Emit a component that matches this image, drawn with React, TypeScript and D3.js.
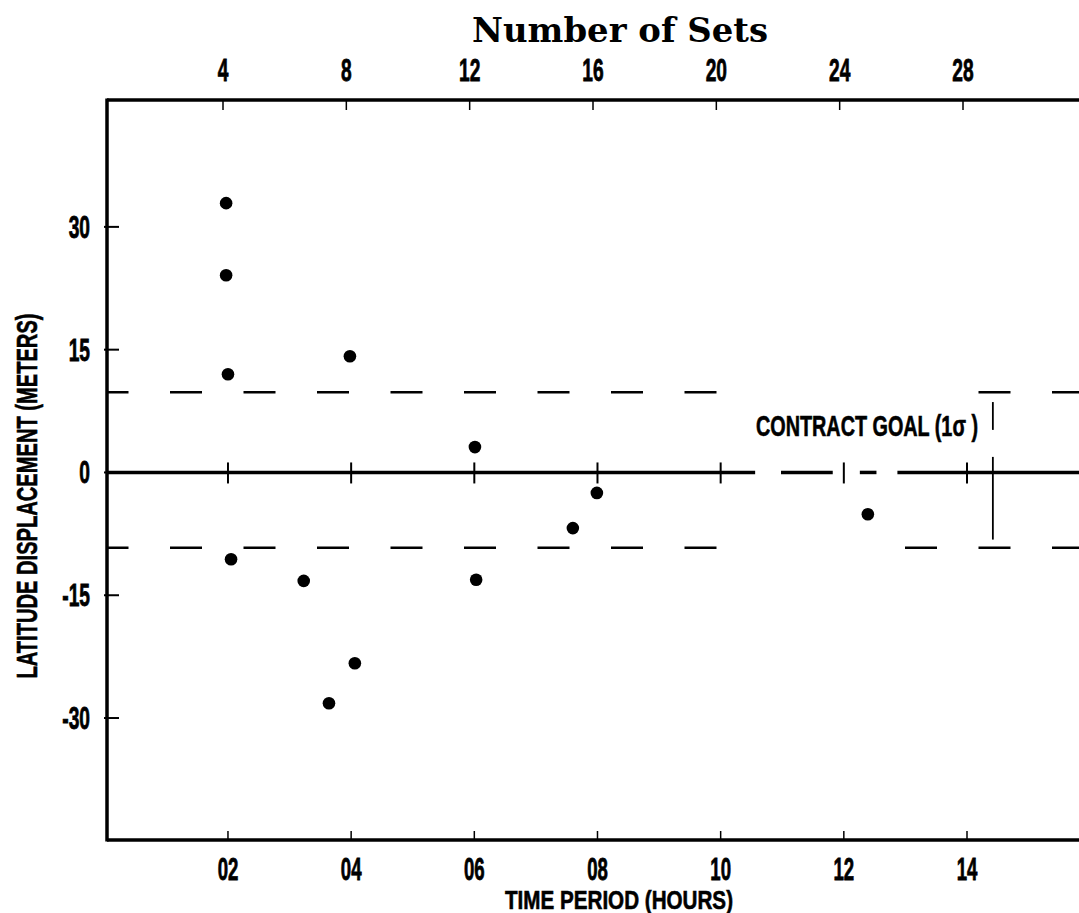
import React, { useEffect, useRef } from "react";
import * as d3 from "d3";

// values
const hourTicks = [2, 4, 6, 8, 10, 12, 14];
const hourLabels = ["02", "04", "06", "08", "10", "12", "14"];
const setTicks = [4, 8, 12, 16, 20, 24, 28];
const yTicks = [30, 15, 0, -15, -30];
const yTickLabels = ["30", "15", "0", "-15", "-30"];

const pointHours = [1.97, 1.97, 2.0, 3.98, 2.05, 3.23, 6.01, 6.03, 7.6, 7.99, 4.06, 3.64, 12.39];
const pointValues = [32.9, 24.1, 12.0, 14.2, -10.6, -13.25, 3.1, -13.1, -6.8, -2.5, -23.3, -28.2, -5.1];

const goalUpper = 9.8;
const goalLower = -9.2;
// pieces of the dashed goal lines that survive in the print (hours)
const goalUpperSegments = [[0, 10.0], [13.72, 16]];
const goalLowerSegments = [[0, 10.0], [12.75, 16]];
const zeroLineSegments = [[0, 10.56], [10.98, 11.82], [12.26, 12.53], [12.87, 16]];
const goalBarHour = 14.42;
const goalBarSegments = [[8.6, 5.2], [1.9, -8.2]];

const FONT = "'Liberation Sans', Arial, sans-serif";

const App = () => {
  const ref = useRef(null);
  const width = 1079;
  const height = 913;

  useEffect(() => {
    d3.select(ref.current).selectAll("*").remove();
    const svg = d3.select(ref.current);

    const x = d3.scaleLinear().domain([0, 14]).range([104.8, 967]);
    const xSets = d3.scaleLinear().domain([4, 28]).range([223, 963]);
    const y = d3.scaleLinear().domain([-44.9, 45.5]).range([840, 100]);

    const left = 107;
    const top = y(45.5);
    const bottom = y(-44.9);

    // heavy condensed lettering, squeezed horizontally
    const label = (g, px, py, txt, anchor, size = 32, sx = 0.6) =>
      g
        .append("text")
        .attr("transform", `translate(${px},${py}) scale(${sx},1)`)
        .attr("text-anchor", anchor)
        .attr("font-family", FONT)
        .attr("font-weight", "bold")
        .attr("font-size", size)
        .attr("stroke", "#000")
        .attr("stroke-width", 0.8)
        .attr("fill", "#000")
        .text(txt);

    // frame: top, left, bottom
    svg.append("line").attr("x1", left).attr("x2", width).attr("y1", top).attr("y2", top)
      .attr("stroke", "#000").attr("stroke-width", 3.5);
    svg.append("line").attr("x1", left).attr("x2", left).attr("y1", top - 1.5).attr("y2", bottom + 1.5)
      .attr("stroke", "#000").attr("stroke-width", 3.5);
    svg.append("line").attr("x1", left).attr("x2", width).attr("y1", bottom).attr("y2", bottom)
      .attr("stroke", "#000").attr("stroke-width", 3.5);

    // top axis: number of sets
    svg.append("g").selectAll("line").data(setTicks).join("line")
      .attr("x1", (d) => xSets(d)).attr("x2", (d) => xSets(d))
      .attr("y1", top).attr("y2", top + 10)
      .attr("stroke", "#000").attr("stroke-width", 1.5);
    const topLabels = svg.append("g");
    setTicks.forEach((d) => label(topLabels, xSets(d), 81, String(d), "middle"));

    svg.append("text")
      .attr("x", 472).attr("y", 42)
      .attr("textLength", 296).attr("lengthAdjust", "spacingAndGlyphs")
      .attr("font-family", "'DejaVu Serif', serif")
      .attr("font-weight", "bold")
      .attr("font-size", 34)
      .text("Number of Sets");

    // y axis ticks and labels
    svg.append("g").selectAll("line").data(yTicks).join("line")
      .attr("x1", left - 3).attr("x2", left + 12)
      .attr("y1", (d) => y(d)).attr("y2", (d) => y(d))
      .attr("stroke", "#000").attr("stroke-width", 2);
    const yLabels = svg.append("g");
    yTicks.forEach((d, i) => label(yLabels, 90, y(d) + 11, yTickLabels[i], "end"));

    svg.append("text")
      .attr("transform", `translate(37,${496}) rotate(-90)`)
      .attr("text-anchor", "middle")
      .attr("textLength", 365).attr("lengthAdjust", "spacingAndGlyphs")
      .attr("font-family", FONT)
      .attr("font-weight", "bold")
      .attr("font-size", 29)
      .attr("stroke", "#000")
      .attr("stroke-width", 0.6)
      .text("LATITUDE DISPLACEMENT (METERS)");

    // bottom axis
    svg.append("g").selectAll("line").data(hourTicks).join("line")
      .attr("x1", (d) => x(d)).attr("x2", (d) => x(d))
      .attr("y1", bottom).attr("y2", bottom - 9)
      .attr("stroke", "#000").attr("stroke-width", 1.5);
    const xLabels = svg.append("g");
    hourTicks.forEach((d, i) => label(xLabels, x(d), 880, hourLabels[i], "middle", 31));

    svg.append("text")
      .attr("x", 505).attr("y", 909)
      .attr("textLength", 228).attr("lengthAdjust", "spacingAndGlyphs")
      .attr("font-family", FONT)
      .attr("font-weight", "bold")
      .attr("font-size", 26)
      .attr("stroke", "#000")
      .attr("stroke-width", 0.6)
      .text("TIME PERIOD (HOURS)");

    // zero line with cross ticks
    svg.append("g").selectAll("line").data(zeroLineSegments).join("line")
      .attr("x1", (d) => Math.max(left, x(d[0]))).attr("x2", (d) => x(d[1]))
      .attr("y1", y(0)).attr("y2", y(0))
      .attr("stroke", "#000").attr("stroke-width", 3.5);
    svg.append("g").selectAll("line").data(hourTicks).join("line")
      .attr("x1", (d) => x(d)).attr("x2", (d) => x(d))
      .attr("y1", y(0) - 10).attr("y2", y(0) + 11)
      .attr("stroke", "#000").attr("stroke-width", 2);

    // dashed contract goal lines, dash phase kept across the gaps
    const dashPhase = 96.5;
    const period = 73.5;
    const drawGoal = (segments, value) =>
      svg.append("g").selectAll("line").data(segments).join("line")
        .attr("x1", (d) => Math.max(left, x(d[0])))
        .attr("x2", (d) => x(d[1]))
        .attr("y1", y(value)).attr("y2", y(value))
        .attr("stroke", "#000").attr("stroke-width", 2.5)
        .attr("stroke-dasharray", `32 ${period - 32}`)
        .attr("stroke-dashoffset", (d) => (Math.max(left, x(d[0])) - dashPhase) % period);
    drawGoal(goalUpperSegments, goalUpper);
    drawGoal(goalLowerSegments, goalLower);

    svg.append("g").selectAll("line").data(goalBarSegments).join("line")
      .attr("x1", x(goalBarHour)).attr("x2", x(goalBarHour))
      .attr("y1", (d) => y(d[0])).attr("y2", (d) => y(d[1]))
      .attr("stroke", "#000").attr("stroke-width", 1.8);

    svg.append("text")
      .attr("x", 756).attr("y", 436)
      .attr("textLength", 222).attr("lengthAdjust", "spacingAndGlyphs")
      .attr("font-family", FONT)
      .attr("font-weight", "bold")
      .attr("font-size", 29)
      .attr("stroke", "#000")
      .attr("stroke-width", 0.6)
      .text("CONTRACT GOAL (1σ )");

    // data points
    svg.append("g").selectAll("circle").data(pointHours).join("circle")
      .attr("cx", (d) => x(d))
      .attr("cy", (d, i) => y(pointValues[i]))
      .attr("r", 6.3)
      .attr("fill", "#000");
  }, []);

  return (
    <svg
      ref={ref}
      width={width}
      height={height}
      style={{ position: "absolute", left: 0, top: 0, background: "#fff" }}
    />
  );
};

export default App;
